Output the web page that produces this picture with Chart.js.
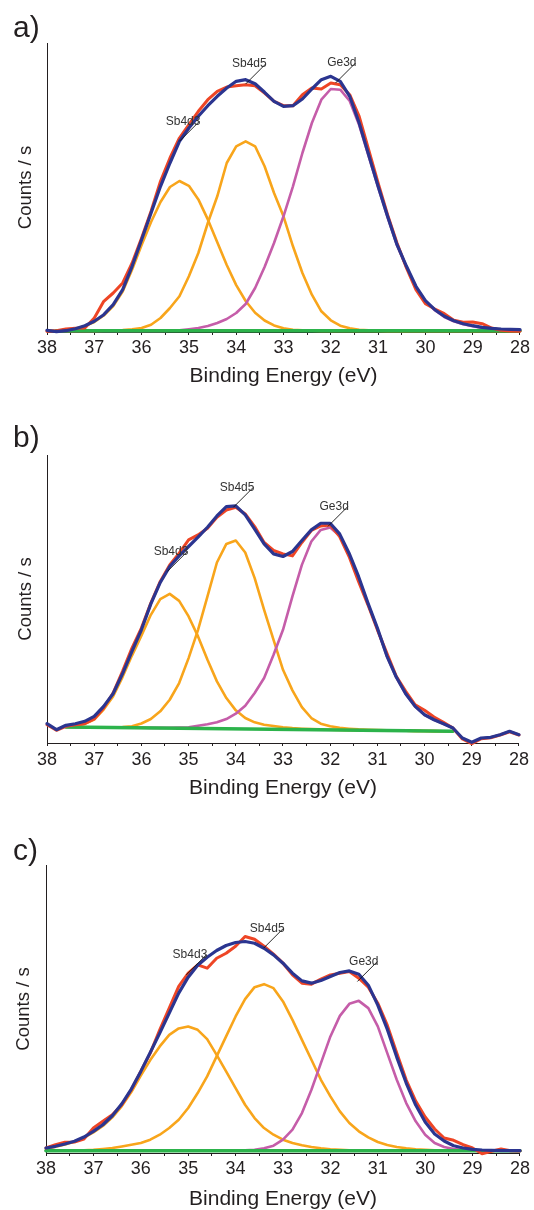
<!DOCTYPE html>
<html>
<head>
<meta charset="utf-8">
<script src="https://cdn.jsdelivr.net/npm/chart.js@4.4.1/dist/chart.umd.min.js"></script>
<style>
    html, body { margin: 0; padding: 0; background: #ffffff; }
    #wrap { position: relative; width: 534px; height: 1210px; overflow: hidden; }
    #wrap canvas { position: absolute; left: 0; }
</style>
</head>
<body>
<div id="wrap">
    <canvas id="chart-a" width="534" height="400" style="top:0px"></canvas>
    <canvas id="chart-b" width="534" height="410" style="top:400px"></canvas>
    <canvas id="chart-c" width="534" height="400" style="top:810px"></canvas>
</div>
<script>
// binding energy grid (eV), shared by every curve
const energy = [38.0, 37.8, 37.6, 37.4, 37.2, 37.0, 36.8, 36.6, 36.4, 36.2, 36.0, 35.8, 35.6, 35.4, 35.2, 35.0, 34.8, 34.6, 34.4, 34.2, 34.0, 33.8, 33.6, 33.4, 33.2, 33.0, 32.8, 32.6, 32.4, 32.2, 32.0, 31.8, 31.6, 31.4, 31.2, 31.0, 30.8, 30.6, 30.4, 30.2, 30.0, 29.8, 29.6, 29.4, 29.2, 29.0, 28.8, 28.6, 28.4, 28.2, 28.0];

const labelNames = ["Sb4d3", "Sb4d5", "Ge3d"];

// panel a
const measuredA = [0.7, 1.3, 3, 3.7, 4, 14, 30.7, 39, 49, 69, 94, 120.7, 150.7, 174, 194, 207.3, 220.7, 232.3, 240.7, 245, 246.3, 247.3, 246.3, 239, 230.7, 226.3, 226.3, 237.3, 244, 243, 249, 247.3, 237.3, 215.7, 182.3, 149, 117.3, 89, 64, 42.3, 28.3, 23, 18.3, 11.7, 9.7, 10, 8.3, 4, 1.7, 1, 0.7];
const fitA = [1.7, 0.3, 1.3, 3.3, 6.3, 10.7, 17.3, 27.3, 42.3, 65.7, 92.3, 119, 145.7, 169, 190.7, 204, 215.7, 226.3, 235.7, 244, 250.7, 252.3, 248.3, 239.7, 230.7, 225.7, 226.3, 233, 243, 252.3, 255.7, 250.7, 235.7, 209, 177.3, 145.7, 115.7, 87.3, 65.7, 45.7, 31.3, 22.3, 15.7, 11.3, 8.3, 6.3, 4.7, 3.7, 3, 2.7, 2.3];
const sb4d3A = [1.1, 1.3, 2, 3.2, 6, 10, 16.5, 26, 40.5, 62.5, 87, 110, 130, 145, 151, 146.2, 132.6, 112.6, 89.7, 67, 46.9, 31, 19.3, 11.5, 6.6, 3.8, 2.3, 1.6, 1.2, 1, 1, 1, 1, 1, 1, 1, 1, 1, 1, 1, 1, 1, 1, 1, 1, 1, 1, 1, 1, 1, 1];
const sb4d5A = [1, 1, 1, 1, 1, 1.1, 1.2, 1.5, 2, 2.8, 4, 7.3, 14, 24, 35.7, 55.7, 79, 109, 135.7, 169, 185.7, 190.7, 185.7, 165.7, 139, 115.7, 85.7, 59, 37.3, 20.7, 11.7, 6.3, 3.7, 2.3, 1.7, 1.3, 1.1, 1, 1, 1, 1, 1, 1, 1, 1, 1, 1, 1, 1, 1, 1];
const ge3dA = [1, 1, 1, 1, 1, 1, 1, 1, 1, 1, 1, 1, 1, 1.3, 1.8, 2.8, 4, 6, 9, 13, 19, 28, 44, 65, 89, 115.7, 145.7, 179, 209, 232.3, 243, 242.3, 231, 207, 176, 145, 115, 86.7, 65, 45, 30.7, 21.7, 15, 10.7, 7.7, 5.7, 4, 3, 2.3, 2, 1.7];
const backgroundEnergyA = [37.8, 28.0];
const backgroundA = [1.3, 1.3];
const labelEnergyA = [35.2, 33.8, 31.9];
const labelCountsA = [190.7, 248, 249];

// panel b
const measuredB = [18.3, 12.7, 16.7, 18.3, 19.3, 24, 35, 50, 71.7, 95, 115, 140, 161.7, 178.3, 190, 203.3, 208.3, 215, 226, 233.3, 236, 229.3, 216.7, 200.7, 192.7, 189.3, 187.3, 200.7, 212.7, 217.3, 218.3, 206.7, 186.7, 161.7, 138.3, 113.3, 90, 66.7, 51.7, 38.3, 32.7, 26, 20.7, 15, 4, -0.7, 4.3, 5.3, 8, 11.3, 8];
const fitB = [19.3, 13.3, 17.7, 19.3, 21.7, 26.7, 36.7, 49.3, 69.3, 91.7, 113.3, 139.3, 160.7, 176.7, 187.3, 196.7, 206, 216, 227.3, 236.7, 237.3, 228.3, 214, 199.3, 189.3, 186.7, 191.7, 202.7, 213.3, 220, 220, 209.3, 190, 166.7, 140, 115, 87.3, 66, 49.3, 36.7, 28.3, 23.3, 19.3, 15, 5, 0.7, 5, 5.7, 8.3, 11.7, 8.3];
const sb4d3B = [null, null, 16.3, 17.3, 19.3, 23.5, 33.5, 46.5, 66, 87.5, 107.5, 128.3, 144, 149.3, 142.3, 126.7, 106.7, 83.3, 61.7, 45, 32.7, 25, 20.7, 18.3, 17, 15.8, 14.9, 14.3, 13.9, 13.6, 13.3, 13.1, 12.9, 12.8, 12.7, 12.5, 12.4, 12.3, 12.2, 12.1, 12, 11.9, 11.8, 11.7, null, null, null, null, null, null, null];
const sb4d5B = [null, null, 16, 15.9, 15.8, 15.7, 15.6, 15.6, 15.9, 16.8, 19.5, 24, 31.7, 43.3, 60, 85, 113.3, 146.7, 180.7, 199.3, 202.7, 190.7, 165, 133.3, 103.3, 73.3, 52.7, 36, 25, 19.3, 16.7, 15.2, 14.3, 13.6, 13.2, 12.9, 12.6, 12.4, 12.2, 12.1, 12, 11.9, 11.8, 11.7, null, null, null, null, null, null, null];
const ge3dB = [null, null, 16, 15.9, 15.8, 15.7, 15.6, 15.5, 15.4, 15.3, 15.2, 15.1, 15.1, 15.2, 15.4, 15.8, 17.3, 18.7, 20.7, 24, 29.3, 37.3, 50, 65, 88.3, 113.3, 146.7, 178.3, 201.7, 213.3, 215.7, 207.5, 188.5, 165.7, 139.3, 114.5, 87, 65.7, 49, 36.5, 28.2, 23.2, 19.2, 15, null, null, null, null, null, null, null];
const backgroundEnergyB = [37.6, 29.4];
const backgroundB = [16, 11.7];
const labelEnergyB = [35.45, 34.05, 32.05];
const labelCountsB = [171.7, 236, 216.7];

// panel c
const measuredC = [5, 8.3, 10.7, 11, 14, 25, 31.7, 38.3, 48.3, 63.3, 81.7, 100, 123.3, 145, 166.7, 180, 188.3, 185, 195, 200, 207, 216.7, 214, 207, 199, 190, 178.3, 170, 169, 174, 178.3, 180, 181.7, 175, 166, 150, 128, 100, 73, 52, 36, 24, 15, 12.7, 8.3, 5, -0.7, 1.7, 4, 2.3, 2];
const fitC = [5, 6.7, 9, 11.7, 16, 21.7, 28.3, 37.3, 49.3, 64, 81.7, 100.7, 120, 140, 160, 176, 188, 196, 202.7, 207.7, 210.7, 211.7, 210, 205, 198.3, 190, 180, 172.3, 170, 172.7, 176.7, 180.7, 182.3, 179, 168, 148, 124, 96, 70, 48, 31, 19, 12, 7.3, 5, 3.7, 3, 2.7, 2.3, 2.3, 2.3];
const sb4d3C = [4, 6.3, 8.5, 11.2, 15.3, 20.7, 27, 35.7, 47, 61, 77.5, 93, 106.7, 118.3, 124.7, 126.7, 123.3, 114, 98.3, 81.7, 65, 48.3, 35, 25, 18.3, 13.3, 10, 7.7, 6, 4.7, 3.7, 3.2, 2.8, 2.6, 2.5, 2.4, 2.3, 2.3, 2.3, 2.3, 2.3, 2.3, 2.3, 2.3, 2.3, 2.3, 2.3, 2.3, 2.3, 2.3, 2.3];
const sb4d5C = [2.3, 2.3, 2.4, 2.5, 2.7, 3.2, 4, 5, 6.5, 8.2, 10, 13.3, 18.3, 25, 33.3, 45, 60, 76.7, 96.7, 116.7, 136.7, 154, 166, 169, 165, 151.7, 133.3, 113.3, 93.3, 73.3, 56.7, 41.7, 30, 21.7, 15.7, 11, 8, 6, 4.7, 3.7, 3.2, 2.8, 2.6, 2.4, 2.4, 2.3, 2.3, 2.3, 2.3, 2.3, 2.3];
const ge3dC = [2.3, 2.3, 2.3, 2.3, 2.3, 2.3, 2.3, 2.3, 2.3, 2.3, 2.3, 2.3, 2.3, 2.3, 2.3, 2.3, 2.3, 2.3, 2.3, 2.3, 2.3, 2.7, 3.3, 4.7, 7.3, 13.3, 23.3, 40, 63.3, 90, 116.7, 137.3, 149.3, 152.3, 145, 126.7, 100, 73.3, 50, 31.7, 18.3, 10, 6, 4, 3, 2.7, 2.3, 2.3, 2.3, 2.3, 2.3];
const backgroundEnergyC = [38.0, 28.0];
const backgroundC = [2.3, 2.3];
const labelEnergyC = [35.04, 33.41, 31.43];
const labelCountsC = [178.3, 205, 171.7];

const TEXT_COLOR = "#231f20";
const FONT_FAMILY = "'Liberation Sans', Arial, Helvetica, sans-serif";

const colors = {
    measured: "#ee4525",
    fit: "#2b3590",
    doublet: "#f8a51b",
    germanium: "#c55da9",
    background: "#2cb34b",
};

// layout of each panel inside its own canvas (local pixels)
const panels = [
    {
        canvas: "chart-a", letter: "a)", letterBaseline: 37, height: 400,
        plotLeft: 47, plotTop: 43, plotBottom: 332, yMax: 289,
        yTitlePad: 17, xTitlePad: 13.5, tickPad: 4,
        measured: measuredA, fit: fitA, sb4d3: sb4d3A, sb4d5: sb4d5A, ge3d: ge3dA,
        bgEnergy: backgroundEnergyA, bg: backgroundA,
        labelEnergy: labelEnergyA, labelCounts: labelCountsA,
    },
    {
        canvas: "chart-b", letter: "b)", letterBaseline: 47, height: 410,
        plotLeft: 47, plotTop: 55, plotBottom: 343, yMax: 288.3,
        yTitlePad: 17, xTitlePad: 11.5, tickPad: 5,
        measured: measuredB, fit: fitB, sb4d3: sb4d3B, sb4d5: sb4d5B, ge3d: ge3dB,
        bgEnergy: backgroundEnergyB, bg: backgroundB,
        labelEnergy: labelEnergyB, labelCounts: labelCountsB,
    },
    {
        canvas: "chart-c", letter: "c)", letterBaseline: 50, height: 400,
        plotLeft: 46, plotTop: 55, plotBottom: 343, yMax: 288.3,
        yTitlePad: 15, xTitlePad: 0.5, tickPad: 4,
        measured: measuredC, fit: fitC, sb4d3: sb4d3C, sb4d5: sb4d5C, ge3d: ge3dC,
        bgEnergy: backgroundEnergyC, bg: backgroundC,
        labelEnergy: labelEnergyC, labelCounts: labelCountsC,
    },
];

function toPoints(xs, ys) {
    return xs.map((x, i) => ({ x, y: ys[i] }));
}

function lineDataset(label, points, color, width) {
    return {
        label,
        data: points,
        borderColor: color,
        backgroundColor: color,
        borderWidth: width,
        pointRadius: 0,
        tension: 0,
        fill: false,
        clip: 8,
        borderJoinStyle: "round",
        borderCapStyle: "round",
    };
}

// peak names with their little leader lines, plus the panel letter
const peakLabelPlugin = {
    id: "peakLabels",
    afterDatasetsDraw(chart, args, opts) {
        const { ctx } = chart;
        const xScale = chart.scales.x;
        const yScale = chart.scales.y;
        ctx.save();
        ctx.strokeStyle = "#111111";
        ctx.lineWidth = 0.9;
        ctx.fillStyle = "#333333";
        ctx.font = `12px ${FONT_FAMILY}`;
        ctx.textAlign = "right";
        ctx.textBaseline = "middle";
        opts.names.forEach((name, i) => {
            const px = xScale.getPixelForValue(opts.energies[i]);
            const py = yScale.getPixelForValue(opts.counts[i]);
            const ex = px + 20;
            const ey = py - 20;
            ctx.beginPath();
            ctx.moveTo(px, py);
            ctx.lineTo(ex, ey);
            ctx.stroke();
            ctx.fillText(name, ex + 1, ey);
        });
        ctx.fillStyle = TEXT_COLOR;
        ctx.font = `30px ${FONT_FAMILY}`;
        ctx.textAlign = "left";
        ctx.textBaseline = "alphabetic";
        ctx.fillText(opts.letter, 13, opts.letterBaseline);
        ctx.restore();
    },
};

function buildChart(panel) {
    const context = document.getElementById(panel.canvas).getContext("2d");
    return new Chart(context, {
        type: "line",
        data: {
            datasets: [
                lineDataset("Fit", toPoints(energy, panel.fit), colors.fit, 3.2),
                lineDataset("Measured", toPoints(energy, panel.measured), colors.measured, 3),
                lineDataset("Background", toPoints(panel.bgEnergy, panel.bg), colors.background, 3.6),
                lineDataset("Ge3d", toPoints(energy, panel.ge3d), colors.germanium, 2.6),
                lineDataset("Sb4d5", toPoints(energy, panel.sb4d5), colors.doublet, 2.6),
                lineDataset("Sb4d3", toPoints(energy, panel.sb4d3), colors.doublet, 2.6),
            ],
        },
        options: {
            responsive: false,
            animation: false,
            events: [],
            layout: {
                padding: { left: 0, top: panel.plotTop, right: 534 - 521, bottom: 0 },
            },
            plugins: {
                legend: { display: false },
                tooltip: { enabled: false },
                peakLabels: {
                    names: labelNames,
                    energies: panel.labelEnergy,
                    counts: panel.labelCounts,
                    letter: panel.letter,
                    letterBaseline: panel.letterBaseline,
                },
            },
            scales: {
                x: {
                    type: "linear",
                    reverse: true,
                    min: 28,
                    max: 38,
                    afterFit: (scale) => {
                        scale.height = panel.height - panel.plotBottom;
                    },
                    ticks: {
                        stepSize: 0.5,
                        autoSkip: false,
                        maxRotation: 0,
                        padding: panel.tickPad,
                        color: TEXT_COLOR,
                        font: { family: FONT_FAMILY, size: 18, lineHeight: 1 },
                        callback: (value) => (Number.isInteger(value) ? String(value) : ""),
                    },
                    grid: {
                        display: true,
                        drawOnChartArea: false,
                        drawTicks: true,
                        tickLength: 3,
                        color: TEXT_COLOR,
                        lineWidth: 1,
                    },
                    border: { display: true, color: TEXT_COLOR, width: 1 },
                    title: {
                        display: true,
                        text: "Binding Energy (eV)",
                        color: TEXT_COLOR,
                        font: { family: FONT_FAMILY, size: 21, lineHeight: 1 },
                        padding: { top: 0, bottom: panel.xTitlePad },
                    },
                },
                y: {
                    type: "linear",
                    min: 0,
                    max: panel.yMax,
                    afterFit: (scale) => {
                        scale.width = panel.plotLeft;
                    },
                    ticks: { display: false },
                    grid: { display: false },
                    border: { display: true, color: TEXT_COLOR, width: 1 },
                    title: {
                        display: true,
                        text: "Counts / s",
                        color: TEXT_COLOR,
                        font: { family: FONT_FAMILY, size: 18.5, lineHeight: 1 },
                        padding: { top: panel.yTitlePad, bottom: 0 },
                    },
                },
            },
        },
        plugins: [peakLabelPlugin],
    });
}

panels.forEach(buildChart);
</script>
</body>
</html>
